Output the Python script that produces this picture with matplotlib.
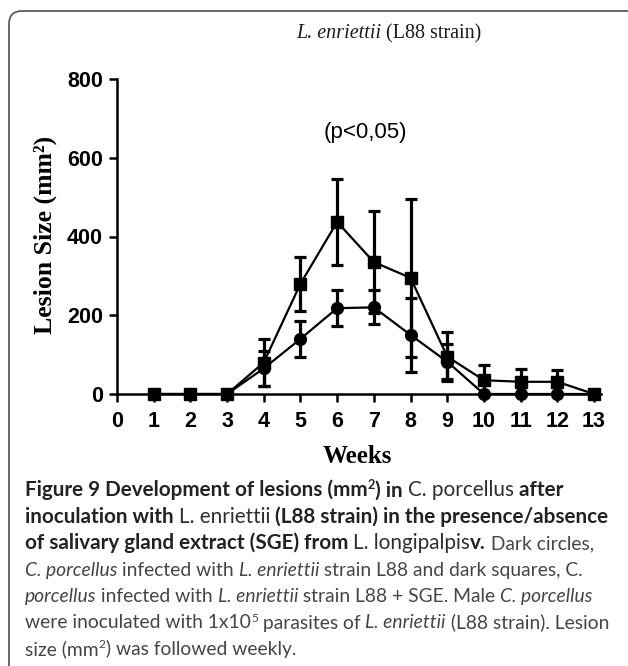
import matplotlib
matplotlib.use('Agg')
import matplotlib.pyplot as plt
from matplotlib.font_manager import FontProperties
from matplotlib.patches import FancyBboxPatch
from matplotlib.transforms import IdentityTransform

W, H = 628, 666

# ---------------- data ----------------
weeks = list(range(1, 14))
x_ticks = list(range(0, 14))
y_ticks = [0, 200, 400, 600, 800]

l88_mean = [0, 0, 0, 65, 140, 218, 220, 150, 82, 0, 0, 0, 0]
l88_err = [0, 0, 0, 45, 45, 45, 43, 95, 45, 0, 0, 0, 0]
sge_mean = [0, 0, 0, 80, 280, 437, 335, 295, 95, 35, 31, 31, 0]
sge_err = [0, 0, 0, 60, 68, 110, 130, 200, 63, 38, 33, 30, 0]

title_parts = [("L. enriettii", "italic"), (" (L88 strain)", "normal")]
y_label = "Lesion Size (mm²)"
x_label = "Weeks"
p_text = "(p<0,05)"

caption_lines = [
    [("Figure 9 Development of lesions (mm", "b", False), ("2", "b", True),
     (") in ", "b", False), ("C. porcellus", "r", False), (" after", "b", False)],
    [("inoculation with ", "b", False), ("L. enriettii", "r", False),
     (" (L88 strain) in the presence/absence", "b", False)],
    [("of salivary gland extract (SGE) from ", "b", False), ("L. longipalpis", "r", False),
     ("v.", "b", False), (" Dark circles,", "l", False)],
    [("C. porcellus", "li", False), (" infected with ", "l", False), ("L. enriettii", "li", False),
     (" strain L88 and dark squares, C.", "l", False)],
    [("porcellus", "li", False), (" infected with ", "l", False), ("L. enriettii", "li", False),
     (" strain L88 + SGE. Male ", "l", False), ("C. porcellus", "li", False)],
    [("were inoculated with 1x10", "l", False), ("5", "l", True), (" parasites of ", "l", False),
     ("L. enriettii", "li", False), (" (L88 strain). Lesion", "l", False)],
    [("size (mm", "l", False), ("2", "l", True), (") was followed weekly.", "l", False)],
]

# ---------------- figure ----------------
fig = plt.figure(figsize=(W / 100, H / 100), dpi=100)
renderer = fig.canvas.get_renderer()


def fx(x):
    return x / W


def fy(y):
    return 1 - y / H


# border (rounded box, cropped at right and bottom)
border = FancyBboxPatch((9, -60), 700, (H - 11) + 60,
                        boxstyle="round,pad=0,rounding_size=13",
                        transform=IdentityTransform(), fill=False,
                        edgecolor='#5c5c5c', linewidth=1.3)
fig.add_artist(border)

# axes
x0_px, x1_px = 117, 601
y0_px, y1_px = 394, 79
ax = fig.add_axes([fx(x0_px), fy(y0_px), (x1_px - x0_px) / W, (y0_px - y1_px) / H])
ax.set_xlim(0, (x1_px - x0_px) / ((594 - 117) / 13))
ax.set_ylim(0, 800)
for s in ['top', 'right']:
    ax.spines[s].set_visible(False)
for s in ['left', 'bottom']:
    ax.spines[s].set_linewidth(1.8)
    ax.spines[s].set_color('black')

tick_font = FontProperties(family='Liberation Sans', weight='bold', size=15.5)
ax.set_xticks(x_ticks)
ax.set_yticks(y_ticks)
ax.set_xticklabels([str(v) for v in x_ticks], fontproperties=tick_font)
ax.set_yticklabels([str(v) for v in y_ticks], fontproperties=tick_font)
ax.tick_params(axis='both', direction='out', length=5.5, width=1.8, colors='black')
ax.tick_params(axis='x', pad=7)
ax.tick_params(axis='y', pad=4.5)

common = dict(color='black', lw=1.6, elinewidth=2.3, capsize=4.3, capthick=2.3)
c1 = ax.errorbar(weeks, l88_mean, yerr=l88_err, fmt='-o', ms=8.5, **common)
c2 = ax.errorbar(weeks, sge_mean, yerr=sge_err, fmt='-s', ms=9.0, **common)
for c in (c1, c2):
    c[0].set_clip_on(False)
    for a in c[1]:
        a.set_clip_on(False)
    for a in c[2]:
        a.set_clip_on(False)

ax.text(6.76, 665, p_text, ha='center', va='center',
        fontproperties=FontProperties(family='Liberation Sans', size=16))

# title
x = 296
for txt, st in title_parts:
    prop = FontProperties(family='Liberation Serif', style=st, size=14.5)
    fig.text(fx(x), fy(38), txt, fontproperties=prop, ha='left', va='baseline', color='#1a1a1a')
    w1 = renderer.get_text_width_height_descent('|' + txt + '|', prop, ismath=False)[0]
    w0 = renderer.get_text_width_height_descent('||', prop, ismath=False)[0]
    x += w1 - w0

# axis labels
lab_font = FontProperties(family='Liberation Serif', weight='bold', size=18)
fig.text(fx(357), fy(463), x_label, fontproperties=lab_font, ha='center', va='baseline')
fig.text(fx(45), fy(235), y_label, fontproperties=FontProperties(family='Liberation Serif', weight='bold', size=18.5),
         rotation=90, ha='center', va='center')

# ---------------- caption ----------------
STY = {
    'b': dict(weight='bold', style='normal', color='#222222', grp='B'),
    'r': dict(weight='normal', style='normal', color='#2e2e2e', grp='B'),
    'l': dict(weight='normal', style='normal', color='#454545', grp='L'),
    'li': dict(weight='normal', style='italic', color='#454545', grp='L'),
}
CAP_FAMILY = 'Lato'
SUP_SCALE = 0.62


def prop_for(st, sizes, sup):
    d = STY[st]
    s = sizes[d['grp']] * (SUP_SCALE if sup else 1.0)
    return FontProperties(family=CAP_FAMILY, weight=d['weight'], style=d['style'], size=s)


def adv(txt, prop):
    w1 = renderer.get_text_width_height_descent('|' + txt + '|', prop, ismath=False)[0]
    w0 = renderer.get_text_width_height_descent('||', prop, ismath=False)[0]
    return w1 - w0


def line_width(segs, sizes):
    return sum(adv(t, prop_for(st, sizes, sup)) for t, st, sup in segs)


base = {'B': 10.0, 'L': 10.0}
size_b = 10.0 * 585 / line_width(caption_lines[1], base)
size_l = 10.0 * 585 / line_width(caption_lines[5], base)
sizes = {'B': size_b, 'L': size_l}

cap_left = 25
baselines = [496.5 + 26.4 * i for i in range(len(caption_lines))]
for segs, yb in zip(caption_lines, baselines):
    x = cap_left
    for t, st, sup in segs:
        prop = prop_for(st, sizes, sup)
        raise_px = sizes[STY[st]['grp']] * 100 / 72 * 0.36 if sup else 0
        fig.text(fx(x), fy(yb - raise_px), t, fontproperties=prop, color=STY[st]['color'],
                 ha='left', va='baseline')
        x += adv(t, prop)

fig.savefig('out.png', dpi=100)
